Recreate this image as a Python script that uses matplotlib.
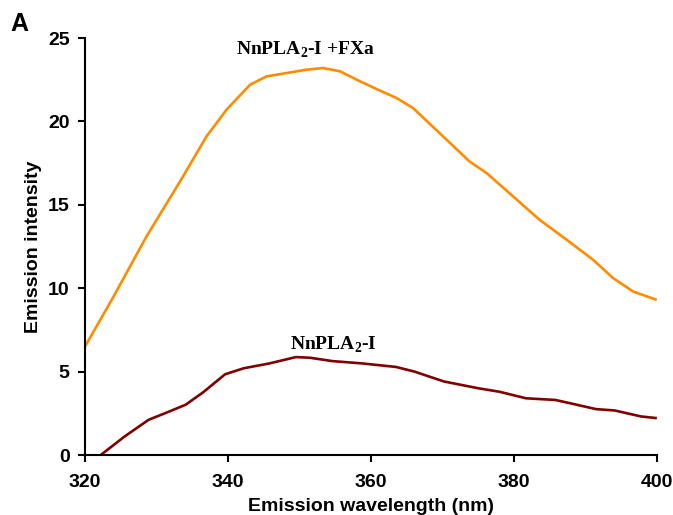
import matplotlib.pyplot as plt

plt.rcParams['mathtext.fontset'] = 'custom'
plt.rcParams['mathtext.bf'] = 'Liberation Serif:bold'
plt.rcParams['mathtext.rm'] = 'Liberation Serif:bold'

# emission spectra
wl_fxa = [320, 324.0, 328.6, 333.3, 337.0, 339.8, 343.1, 345.4, 348.2, 351.0,
          353.3, 355.7, 358.5, 361.0, 363.6, 365.9, 370.1, 373.8, 376.2, 379.9,
          383.6, 387.4, 391.1, 393.9, 396.7, 400]
int_fxa = [6.5, 9.5, 13.1, 16.4, 19.1, 20.7, 22.2, 22.7, 22.9, 23.1,
           23.2, 23.0, 22.4, 21.9, 21.4, 20.8, 19.1, 17.6, 16.9, 15.5,
           14.1, 12.9, 11.7, 10.6, 9.8, 9.3]

wl_pla = [322.2, 325.6, 328.9, 331.8, 334.1, 336.5, 339.6, 342.2, 345.8, 349.5,
          351.5, 354.6, 358.8, 363.5, 366.1, 370.2, 374.9, 378.0, 381.7, 385.8,
          387.9, 391.5, 394.1, 397.8, 400]
int_pla = [0.0, 1.13, 2.11, 2.61, 3.02, 3.75, 4.84, 5.20, 5.49, 5.87,
           5.83, 5.63, 5.49, 5.28, 5.0, 4.41, 4.01, 3.79, 3.40, 3.30,
           3.10, 2.75, 2.67, 2.31, 2.21]

xticks = [320, 340, 360, 380, 400]
yticks = [0, 5, 10, 15, 20, 25]

fig = plt.figure(figsize=(6.73, 5.15), dpi=100)
ax = fig.add_axes([0.1263, 0.1165, 0.8497, 0.8097])

ax.plot(wl_fxa, int_fxa, color='#ff8c00', lw=1.9, solid_capstyle='butt')
ax.plot(wl_pla, int_pla, color='#800000', lw=1.9, solid_capstyle='butt')

ax.set_xlim(320, 400)
ax.set_ylim(0, 25)
ax.set_xticks(xticks)
ax.set_yticks(yticks)
for s in ['top', 'right']:
    ax.spines[s].set_visible(False)
for s in ['left', 'bottom']:
    ax.spines[s].set_linewidth(1.5)
ax.tick_params(direction='out', length=5, width=1.5, labelsize=14)
ax.tick_params(axis='x', pad=9)
ax.tick_params(axis='y', pad=6)
for lab in ax.get_xticklabels() + ax.get_yticklabels():
    lab.set_fontweight('bold')
    lab.set_fontfamily('Liberation Sans')

ax.set_xlabel('Emission wavelength (nm)', fontsize=14, fontweight='bold',
              family='Liberation Sans', labelpad=5)
ax.set_ylabel('Emission intensity', fontsize=14, fontweight='bold',
              family='Liberation Sans', labelpad=4)

ax.text(350.8, 24.3, r'NnPLA$_\mathbf{2}$-I +FXa', ha='center', va='center',
        fontsize=14, fontweight='bold', family='Liberation Serif')
ax.text(354.8, 6.6, r'NnPLA$_\mathbf{2}$-I', ha='center', va='center',
        fontsize=14, fontweight='bold', family='Liberation Serif')

fig.text(0.015, 0.94, 'A', fontsize=18, fontweight='bold', family='Liberation Sans')

fig.savefig('out.png', dpi=100)
